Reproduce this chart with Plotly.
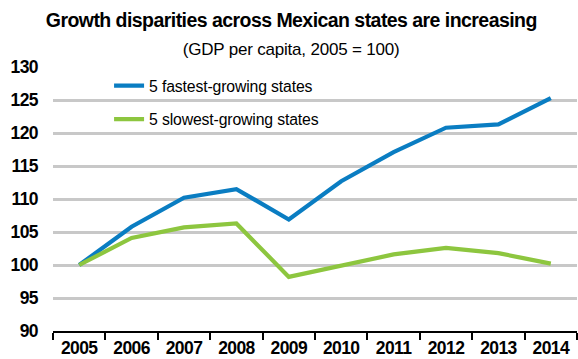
import plotly.graph_objects as go

# GDP per capita index (2005 = 100)
years = ["2005", "2006", "2007", "2008", "2009", "2010", "2011", "2012", "2013", "2014"]
fastest = [100, 105.8, 110.2, 111.5, 106.9, 112.7, 117.1, 120.8, 121.3, 125.3]
slowest = [100, 104.1, 105.7, 106.3, 98.2, 99.85, 101.6, 102.6, 101.8, 100.2]

series_names = ["5 fastest-growing states", "5 slowest-growing states"]
series_colors = ["#0A7DC2", "#8DC63F"]

title_text = "Growth disparities across Mexican states are increasing"
subtitle_text = "(GDP per capita, 2005 = 100)"

FONT = "Liberation Sans, Arial, sans-serif"

fig = go.Figure()
for name, vals, color in zip(series_names, [fastest, slowest], series_colors):
    fig.add_trace(go.Scatter(
        x=years, y=vals, name=name, mode="lines",
        line=dict(color=color, width=4.2), legendgroup=name,
    ))

fig.update_layout(
    width=578, height=359,
    margin=dict(l=53, r=1, t=67, b=25, pad=0),
    paper_bgcolor="white", plot_bgcolor="white",
    font=dict(family=FONT, color="black"),
    title=dict(
        text="<b>" + title_text + "</b>",
        font=dict(family=FONT, size=19.5, color="black"),
        x=0.504, xref="container", xanchor="center",
        y=1 - 20 / 359, yref="container", yanchor="middle",
    ),
    showlegend=True,
    legend=dict(
        x=0.107, xanchor="left", y=0.993, yanchor="top",
        bgcolor="rgba(0,0,0,0)", borderwidth=0,
        font=dict(family=FONT, size=15.8, color="black"),
        traceorder="grouped", tracegroupgap=10,
    ),
    xaxis=dict(
        type="category", categoryorder="array", categoryarray=years,
        range=[-0.5, len(years) - 0.5],
        showline=True, linecolor="black", linewidth=2,
        ticks="outside", tickson="boundaries", ticklen=7, tickwidth=2, tickcolor="black",
        showgrid=False, zeroline=False,
        tickfont=dict(family=FONT, size=17.5, color="black", weight="bold"),
    ),
    yaxis=dict(
        range=[90, 130], dtick=5, tick0=90,
        showgrid=True, gridcolor="#C8C8C8", gridwidth=2.5,
        zeroline=False, showline=False, ticks="",
        ticklabelstandoff=14,
        tickfont=dict(family=FONT, size=17.5, color="black", weight="bold"),
    ),
    annotations=[dict(
        text=subtitle_text, xref="paper", yref="paper",
        x=(291 - 53) / 524, y=(334 - 49) / 267, xanchor="center", yanchor="middle",
        showarrow=False, font=dict(family=FONT, size=17, color="black"),
    )],
)

# Tight tracking for the condensed text style
tracking_js = """
var gd = document.getElementsByClassName('plotly-graph-div')[0];
function track(sel, px) {
  gd.querySelectorAll(sel).forEach(function (t) { t.style.letterSpacing = px; });
}
track('.gtitle', '-0.55px');
track('.annotation-text', '-0.2px');
track('.xtick text', '-0.6px');
track('.ytick text', '-0.6px');
track('.legendtext', '-0.15px');
"""

fig.write_html("out.html", post_script=tracking_js)
